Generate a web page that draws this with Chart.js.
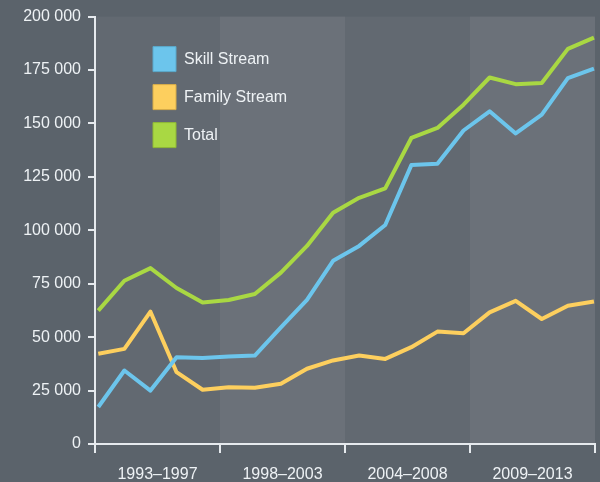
<!DOCTYPE html>
<html><head><meta charset="utf-8">
<script src="https://cdn.jsdelivr.net/npm/chart.js@4"></script>
<style>html,body{margin:0;padding:0;background:#5b636b;overflow:hidden}</style>
</head><body>
<canvas id="c" width="600" height="482"></canvas>
<script>
const years = [1994,1995,1996,1997,1998,1999,2000,2001,2002,2003,2004,2005,2006,2007,2008,2009,2010,2011,2012,2013];
const periodLabels = ['1993–1997','1998–2003','2004–2008','2009–2013'];
const skillStream = [17300,34400,25000,40600,40300,40900,41400,54600,67400,85700,92700,102500,130500,131100,146700,155700,145300,154100,171200,175600];
const familyStream = [42200,44500,61900,33600,25400,26600,26300,28200,35200,39100,41400,39800,45300,52600,51800,61600,67000,58500,64700,66700];
const total = [62400,76400,82300,73000,66200,67400,70200,80200,92700,108200,115200,119600,143200,147900,158800,171500,168400,168900,184900,190200];
const yTicks = [0,25000,50000,75000,100000,125000,150000,175000,200000];
const seriesNames = ['Skill Stream','Family Stream','Total'];

const lineColors = ['#6cc5ec','#fdcf5e','#a9d843'];
const legendStroke = ['#5aa9cc','#d8ad48','#8fb935'];
const axisColor = '#e6eaee';
const textColor = '#eef2f5';
const bandColors = ['#626971','#6b7179'];
const FONT = {family:'"Liberation Sans", Arial, sans-serif', size:16};

const fmt = v => String(v).replace(/\B(?=(\d{3})+(?!\d))/g,' ');
const pts = arr => arr.map((v,i)=>({x:years[i], y:v}));

const bandsPlugin = {
  id:'bands',
  beforeDraw(chart){
    const {ctx, chartArea:a} = chart;
    const n = periodLabels.length, w = (a.right-a.left)/n;
    ctx.save();
    for(let i=0;i<n;i++){
      ctx.fillStyle = bandColors[i%2];
      ctx.fillRect(a.left + i*w, a.top, w, a.bottom-a.top);
    }
    ctx.restore();
  }
};
const legendPos = {
  id:'legendPos',
  afterLayout(chart){
    const lg = chart.legend; if(!lg) return;
    const pad = chart.options.plugins.legend.labels.padding;
    const a = chart.chartArea;
    const w = lg.width, h = lg.height;
    lg.left = a.left + 58 - pad;
    lg.top = a.top + 30 - pad;
    lg.right = lg.left + w;
    lg.bottom = lg.top + h;
  }
};

new Chart(document.getElementById('c'), {
  type:'line',
  data:{
    datasets:[
      {label:seriesNames[0], data:pts(skillStream), borderColor:lineColors[0], backgroundColor:lineColors[0]},
      {label:seriesNames[1], data:pts(familyStream), borderColor:lineColors[1], backgroundColor:lineColors[1]},
      {label:seriesNames[2], data:pts(total), borderColor:lineColors[2], backgroundColor:lineColors[2]}
    ]
  },
  options:{
    responsive:false,
    animation:false,
    devicePixelRatio:1,
    layout:{padding:{left:0,right:5,top:15,bottom:0}},
    elements:{
      line:{borderWidth:4, tension:0, borderJoinStyle:'round'},
      point:{radius:0, hoverRadius:0}
    },
    scales:{
      x:{type:'linear', display:false, min:1993.874, max:2013.04},
      x2:{
        type:'category', labels:periodLabels, position:'bottom', offset:true,
        grid:{drawOnChartArea:false, offset:true, tickLength:9, color:axisColor, lineWidth:2},
        border:{color:axisColor, width:2},
        ticks:{color:textColor, font:FONT, padding:12, maxRotation:0},
        afterFit(s){ s.height = 38; }
      },
      y:{
        type:'linear', min:0, max:200000, position:'left',
        afterBuildTicks(s){ s.ticks = yTicks.map(v=>({value:v})); },
        grid:{drawOnChartArea:false, tickLength:7, color:axisColor, lineWidth:2},
        border:{color:axisColor, width:2},
        ticks:{color:textColor, font:FONT, padding:7, callback:v=>fmt(v)},
        afterFit(s){ s.width = 95; }
      }
    },
    plugins:{
      tooltip:{enabled:false},
      legend:{
        position:'chartArea', align:'start',
        labels:{
          boxWidth:23, boxHeight:25, padding:13, color:textColor, font:FONT,
          generateLabels(chart){
            const items = Chart.defaults.plugins.legend.labels.generateLabels(chart);
            items.forEach((it,i)=>{ it.fillStyle = lineColors[i]; it.strokeStyle = legendStroke[i]; it.lineWidth = 1; });
            return items;
          }
        }
      }
    }
  },
  plugins:[bandsPlugin, legendPos]
});
</script>
</body></html>
